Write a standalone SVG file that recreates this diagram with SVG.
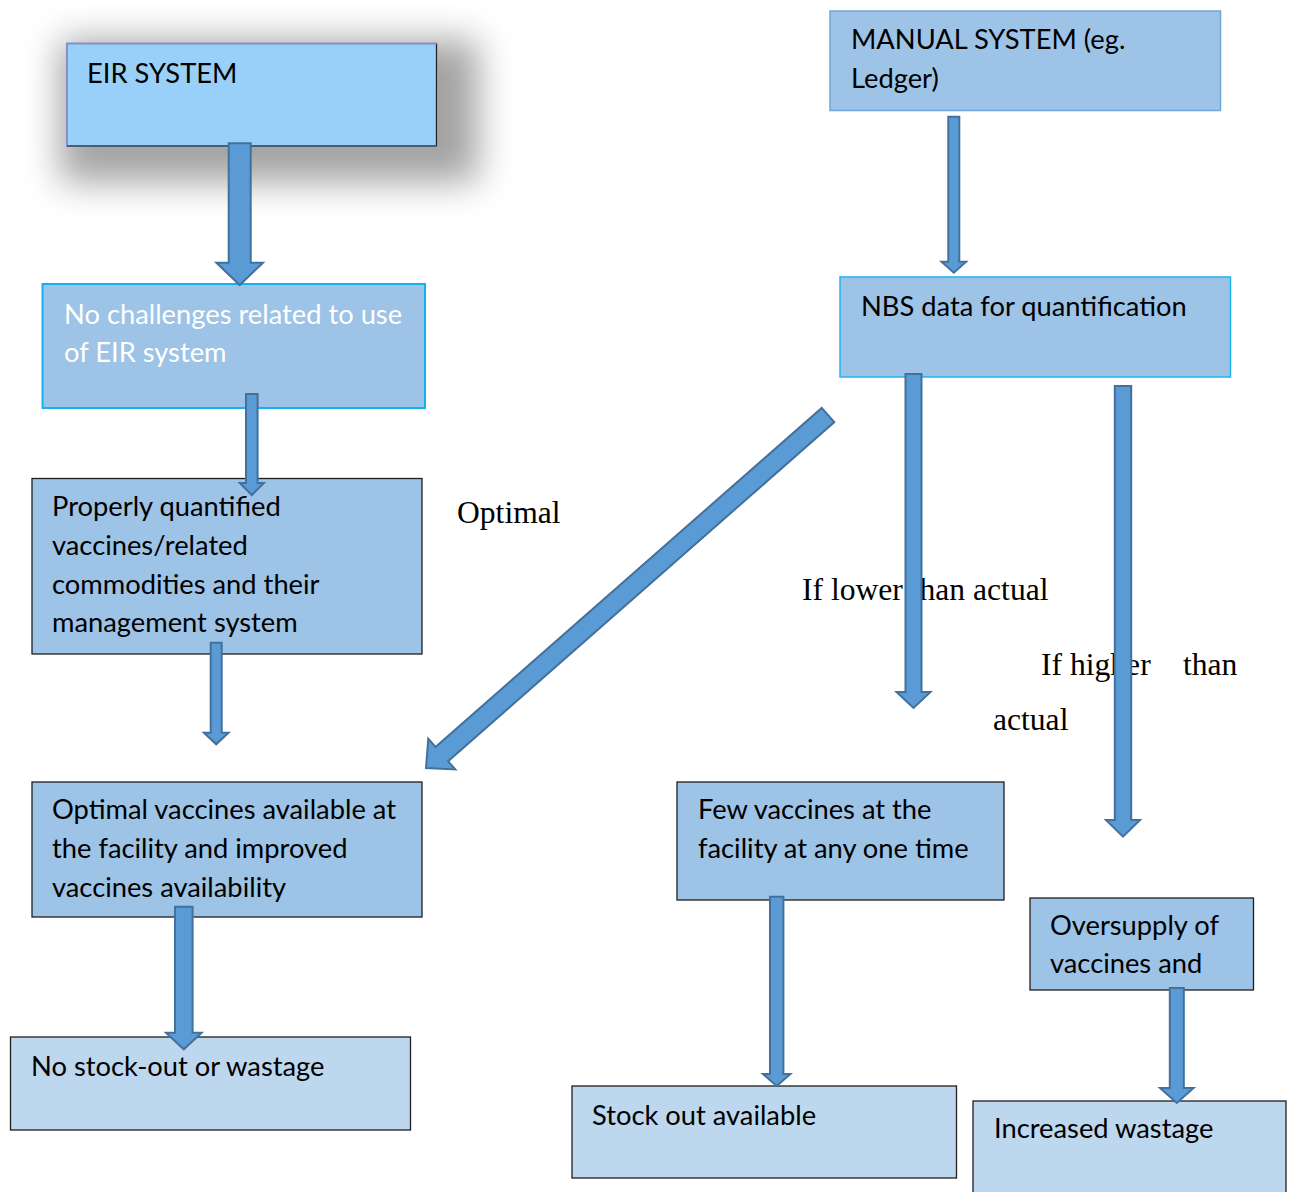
<svg xmlns="http://www.w3.org/2000/svg" width="1293" height="1192" viewBox="0 0 1293 1192">
<defs>
<filter id="sh" x="-30%" y="-60%" width="160%" height="220%"><feGaussianBlur stdDeviation="18"/></filter>
</defs>
<style>
.box{fill:#9DC3E6;stroke:#1f1f1f;stroke-width:1.3}
.lt{fill:#BDD7EE;stroke:#1f1f1f;stroke-width:1.3}
.t{font-family:Lato,"Open Sans",sans-serif;font-size:27.3px;fill:#000}
.s{font-family:"Liberation Serif","Times New Roman",serif;font-size:31.6px;fill:#000}
.arr{fill:#5B9BD5;stroke:#41719C;stroke-width:2;stroke-linejoin:miter}
</style>
<rect width="1293" height="1192" fill="#fff"/>
<g id="eir">
<rect x="60" y="40" width="418" height="142" fill="#000" opacity="0.36" filter="url(#sh)"/>
<rect x="67" y="43.5" width="369.5" height="102.5" fill="#99D0FA" stroke="#7F93C4" stroke-width="2"/>
<path d="M436.5,44 V146 H67" fill="none" stroke="#222" stroke-width="1"/>
<text class="t" x="87" y="83">EIR SYSTEM</text>
</g>
<g id="nochallenges">
<rect x="42.5" y="284" width="382.5" height="124" fill="#9DC3E6" stroke="#12B2F0" stroke-width="2"/>
<text class="t" x="64" y="323.5" style="fill:#fff">No challenges related to use</text>
<text class="t" x="64" y="362" style="fill:#fff">of EIR system</text>
</g>
<g id="properly">
<rect class="box" x="32" y="478.5" width="390" height="175.5"/>
<text class="t" x="52" y="516">Properly quantified</text>
<text class="t" x="52" y="555">vaccines/related</text>
<text class="t" x="52" y="594">commodities and their</text>
<text class="t" x="52" y="632">management system</text>
</g>
<g id="optimalbox">
<rect class="box" x="32" y="782" width="390" height="135"/>
<text class="t" x="52" y="819">Optimal vaccines available at</text>
<text class="t" x="52" y="858">the facility and improved</text>
<text class="t" x="52" y="897">vaccines availability</text>
</g>
<g id="nostockout">
<rect class="lt" x="10.5" y="1037" width="400" height="93"/>
<text class="t" x="31" y="1076">No stock-out or wastage</text>
</g>
<g id="manual">
<rect x="830" y="11" width="390.5" height="99.5" fill="#9DC3E6" stroke="#6FA7DB" stroke-width="1.5"/>
<text class="t" x="851" y="48.5">MANUAL SYSTEM (eg.</text>
<text class="t" x="851" y="87.5">Ledger)</text>
</g>
<g id="nbs">
<rect x="840" y="277" width="390.5" height="100" fill="#9DC3E6" stroke="#1CB5F0" stroke-width="1.5"/>
<text class="t" x="861" y="315.5">NBS data for quantification</text>
</g>
<g id="few">
<rect class="box" x="677" y="782" width="327" height="118"/>
<text class="t" x="698" y="819">Few vaccines at the</text>
<text class="t" x="698" y="858">facility at any one time</text>
</g>
<g id="stockout">
<rect class="lt" x="572" y="1086" width="384.5" height="92"/>
<text class="t" x="592" y="1125">Stock out available</text>
</g>
<g id="oversupply">
<rect class="box" x="1030" y="898" width="223.5" height="92"/>
<text class="t" x="1050" y="935">Oversupply of</text>
<text class="t" x="1050" y="973">vaccines and</text>
</g>
<g id="wastage">
<rect class="lt" x="973" y="1101" width="313" height="100"/>
<text class="t" x="994" y="1138">Increased wastage</text>
</g>
<g id="labels">
<text class="s" x="457" y="523">Optimal</text>
<text class="s" x="802" y="600">If lower than actual</text>
<text class="s" y="675"><tspan x="1041">If higher</tspan><tspan x="1183">than</tspan></text>
<text class="s" x="993" y="730">actual</text>
</g>
<g id="connectors">
<path class="arr" d="M228.7,143.3 H250.7 V262.7 H263 L239.7,285 L216.4,262.7 H228.7 Z"/>
<path class="arr" d="M246,394 H257.6 V483 H263.8 L251.8,495 L239.8,483 H246 Z"/>
<path class="arr" d="M210.7,642.7 H221.7 V732.7 H228.5 L216.2,744.3 L203.9,732.7 H210.7 Z"/>
<path class="arr" d="M175,906.7 H192.6 V1032.7 H201.6 L183.8,1049.3 L166,1032.7 H175 Z"/>
<path class="arr" d="M948.3,116.7 H959.3 V261.7 H966.1 L953.8,272.7 L941.5,261.7 H948.3 Z"/>
<path class="arr" d="M905.5,374 H921.5 V692 H930.5 L913.5,708 L896.5,692 H905.5 Z"/>
<path class="arr" d="M1114.8,386 H1131.2 V820 H1140 L1123,836.7 L1106,820 H1114.8 Z"/>
<path class="arr" d="M770,896.7 H783.4 V1074 H790.4 L776.7,1086 L763,1074 H770 Z"/>
<path class="arr" d="M1169.8,988 H1183.8 V1088 H1193.6 L1176.8,1103 L1160,1088 H1169.8 Z"/>
<path class="arr" d="M821.7,407.9 L834.3,422.1 L448.1,761.2 L455.3,769.5 L426,768 L428.3,738.7 L435.5,747 Z"/>
</g>
</svg>
